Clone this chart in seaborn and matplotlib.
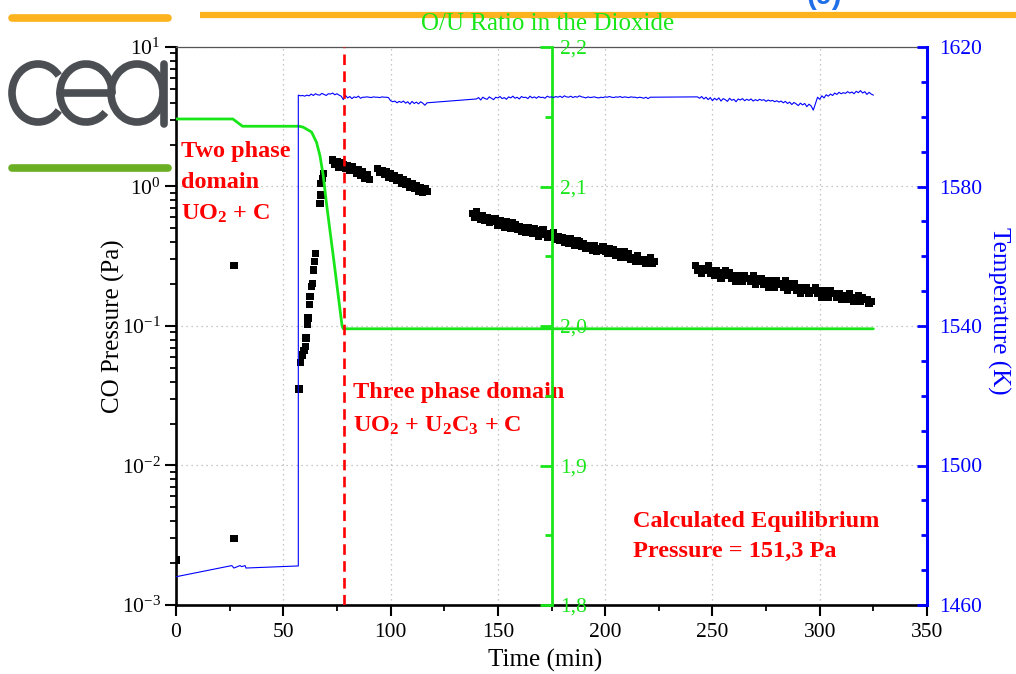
import numpy as np
import pandas as pd
import matplotlib
matplotlib.use("Agg")
import matplotlib.pyplot as plt
import matplotlib.ticker as mticker
from matplotlib.patches import Arc
from matplotlib.lines import Line2D
import seaborn as sns

# --------------------------------------------
# Data
# --------------------------------------------

# CO pressure (Pa), isolated points and the fast rise
p_early_time = [0.3, 27.0, 27.0, 57.3, 58.1, 59.0, 59.7, 60.3, 60.6, 61.2, 61.5, 62.1,
                62.5, 63.1, 63.5, 64.0, 64.5, 65.1, 67.1, 67.6, 67.4, 68.2, 68.6]
p_early = [0.0021, 0.27, 0.0030, 0.0353, 0.055, 0.062, 0.067, 0.071, 0.082, 0.102, 0.114, 0.142,
           0.162, 0.191, 0.202, 0.252, 0.289, 0.332, 0.758, 0.869, 1.05, 1.146, 1.244]

# CO pressure plateaus (one reading per minute)
p1a_start, p1a = 73, [1.55, 1.45, 1.50, 1.38, 1.49, 1.44, 1.35, 1.42, 1.31, 1.38,
                      1.33, 1.24, 1.32, 1.20, 1.28, 1.15, 1.22, 1.12]
p1b_start, p1b = 94, [1.35, 1.26, 1.30, 1.22, 1.27, 1.17, 1.23, 1.14, 1.19, 1.10,
                      1.15, 1.06, 1.12, 1.03, 1.08, 0.99, 1.05, 0.97, 1.02, 0.93,
                      0.99, 0.91, 0.96, 0.92]
p2_start, p2 = 138, [0.64, 0.60, 0.66, 0.61, 0.58, 0.62, 0.57, 0.60, 0.55, 0.59,
                     0.56, 0.59, 0.53, 0.57, 0.55, 0.51, 0.56, 0.54, 0.50, 0.55,
                     0.53, 0.49, 0.52, 0.48, 0.51, 0.47, 0.51, 0.49, 0.46, 0.50,
                     0.48, 0.44, 0.47, 0.49, 0.45, 0.43, 0.46, 0.44, 0.47, 0.42,
                     0.44, 0.41, 0.43, 0.40, 0.42, 0.39, 0.42, 0.40, 0.38, 0.41,
                     0.40, 0.37, 0.39, 0.36, 0.38, 0.37, 0.35, 0.38, 0.34, 0.36,
                     0.35, 0.37, 0.34, 0.33, 0.36, 0.33, 0.35, 0.32, 0.34, 0.31,
                     0.32, 0.34, 0.31, 0.33, 0.30, 0.31, 0.29, 0.32, 0.30, 0.29,
                     0.30, 0.28, 0.29, 0.31, 0.28, 0.29]
p3_start, p3 = 242, [0.27, 0.25, 0.26, 0.24, 0.26, 0.25, 0.27, 0.24, 0.25, 0.23,
                     0.25, 0.24, 0.22, 0.24, 0.25, 0.23, 0.24, 0.22, 0.23, 0.21,
                     0.23, 0.22, 0.21, 0.23, 0.22, 0.22, 0.21, 0.23, 0.20, 0.22,
                     0.21, 0.22, 0.20, 0.21, 0.19, 0.21, 0.20, 0.19, 0.21, 0.20,
                     0.20, 0.19, 0.21, 0.18, 0.20, 0.19, 0.20, 0.18, 0.19, 0.17,
                     0.19, 0.18, 0.19, 0.17, 0.18, 0.18, 0.19, 0.17, 0.18, 0.16,
                     0.18, 0.17, 0.16, 0.18, 0.17, 0.17, 0.16, 0.17, 0.155, 0.165,
                     0.165, 0.155, 0.17, 0.16, 0.15, 0.16, 0.165, 0.15, 0.16, 0.155,
                     0.155, 0.145, 0.15]

# O/U ratio in the dioxide
ou_time = [0, 26.5, 31, 57.5, 59.3, 61, 63.2, 65.5, 67.1, 68.6, 70.2, 73.3, 77.4, 78, 325]
ou_ratio = [2.1484, 2.1484, 2.1432, 2.1432, 2.1425, 2.141, 2.139, 2.1316, 2.122, 2.108,
            2.087, 2.050, 2.000, 1.998, 1.998]

# Temperature (K): heating part, then per-minute readings
t_low_time = [0, 26, 27, 29.8, 30.6, 32.2, 32.6, 57]
t_low = [1468.1, 1471.3, 1470.6, 1471.3, 1471.0, 1471.3, 1470.6, 1471.2]
ta_start, temp_a = 57, [1606.2, 1606.0, 1606.1, 1605.9, 1606.2, 1606.0, 1606.5, 1606.1, 1606.6, 1606.3,
                        1606.2, 1606.7, 1606.4, 1606.1, 1606.6, 1606.5, 1606.8, 1606.3, 1606.6, 1606.2,
                        1605.9, 1604.9, 1606.1, 1605.4, 1605.8, 1605.2, 1605.7, 1605.5, 1605.9, 1605.3,
                        1605.6, 1605.6, 1605.7, 1605.6, 1605.5, 1605.7, 1605.6, 1605.6, 1605.5, 1605.7,
                        1605.6, 1605.6, 1605.5, 1604.6, 1604.3, 1604.5, 1604.0, 1604.4, 1604.1, 1604.5,
                        1603.9, 1604.3, 1603.6, 1604.4, 1603.8, 1604.2, 1603.7, 1604.3, 1603.9, 1603.3,
                        1604.0]
tc_start, temp_c = 140, [1605.1, 1605.5, 1604.8, 1605.6, 1605.2, 1605.0, 1605.7, 1605.3, 1604.9, 1605.6,
                         1605.4, 1605.8, 1605.2, 1605.5, 1605.0, 1605.7, 1605.4, 1605.9, 1605.3, 1605.6,
                         1605.1, 1605.8, 1605.5, 1605.6, 1605.2, 1605.9, 1605.4, 1605.7, 1605.3, 1605.8,
                         1605.5, 1605.6, 1605.3, 1605.9, 1605.6, 1605.7, 1605.5, 1605.8, 1605.6, 1605.9,
                         1605.5, 1606.0, 1605.7, 1605.6, 1605.9, 1605.5, 1605.8, 1605.6, 1606.0, 1605.7,
                         1605.6, 1605.4, 1605.7, 1605.5, 1605.6, 1605.7, 1605.5, 1605.4, 1605.6, 1605.5,
                         1605.7, 1605.6, 1605.8, 1605.6, 1605.5, 1605.7, 1605.6, 1605.8, 1605.5, 1605.7,
                         1605.6, 1605.5, 1605.7, 1605.6, 1605.6, 1605.4, 1605.6, 1605.5, 1605.3, 1605.6,
                         1605.2, 1605.6]
te_start, temp_e = 243, [1605.7, 1605.3, 1605.8, 1605.1, 1605.6, 1604.9, 1605.5, 1604.6, 1605.3, 1604.8,
                         1605.4, 1604.5, 1605.2, 1604.9, 1604.4, 1605.3, 1604.7, 1605.0, 1604.3, 1605.1,
                         1604.8, 1605.2, 1604.6, 1605.0, 1604.7, 1605.1, 1604.5, 1604.9, 1604.6, 1605.0,
                         1604.7, 1604.9, 1604.4, 1604.8, 1604.5, 1604.7, 1604.3, 1604.6, 1604.2, 1604.5,
                         1604.0, 1604.4, 1603.8, 1604.2, 1603.5, 1604.1, 1603.7, 1603.2, 1603.9, 1603.4,
                         1603.8, 1602.9, 1603.6, 1603.1, 1601.9, 1603.8, 1605.6, 1605.0, 1606.0, 1605.4,
                         1606.3, 1605.9, 1606.5, 1606.1, 1606.8, 1606.4, 1607.0, 1606.6, 1606.9, 1606.7,
                         1607.2, 1606.8, 1607.1, 1606.6, 1607.3, 1606.9, 1607.5, 1606.8, 1607.2, 1606.4,
                         1607.0, 1606.5, 1606.2]

boundary_time = 78.3

x_ticks = [0, 50, 100, 150, 200, 250, 300, 350]
ou_ticks = [1.8, 1.9, 2.0, 2.1, 2.2]
temp_ticks = [1460, 1500, 1540, 1580, 1620]

GREEN = "#19e619"
BLUE = "#0000ff"
RED = "#ff0000"

# --------------------------------------------
# Build tables
# --------------------------------------------


def per_minute(start, values):
    return pd.DataFrame({"t": np.arange(start, start + len(values)), "v": values})


pressure = pd.concat([
    pd.DataFrame({"t": p_early_time, "v": p_early}),
    per_minute(p1a_start, p1a),
    per_minute(p1b_start, p1b),
    per_minute(p2_start, p2),
    per_minute(p3_start, p3),
], ignore_index=True)

temperature = pd.concat([
    pd.DataFrame({"t": t_low_time, "v": t_low}),
    per_minute(ta_start, temp_a),
    per_minute(tc_start, temp_c),
    per_minute(te_start, temp_e),
], ignore_index=True)

ou = pd.DataFrame({"t": ou_time, "v": ou_ratio})

# --------------------------------------------
# Style
# --------------------------------------------

sns.set_theme(style="ticks")
plt.rcParams["font.family"] = ["Liberation Serif", "DejaVu Serif"]
plt.rcParams["mathtext.fontset"] = "custom"
plt.rcParams["mathtext.rm"] = "Liberation Serif"
plt.rcParams["mathtext.it"] = "Liberation Serif:italic"
plt.rcParams["mathtext.bf"] = "Liberation Serif:bold"
plt.rcParams["axes.unicode_minus"] = False

fig = plt.figure(figsize=(10.16, 6.74), dpi=100)
fig.patch.set_facecolor("white")

# slide decoration (pixel coordinates)
deco = fig.add_axes([0, 0, 1, 1], zorder=-1)
deco.set_xlim(0, 1016)
deco.set_ylim(674, 0)
deco.axis("off")
deco.add_line(Line2D([12, 168], [18, 18], color="#fdb31e", lw=5.5, solid_capstyle="round"))
deco.add_line(Line2D([200, 1016], [15, 15], color="#fdb31e", lw=4.5, solid_capstyle="butt"))
deco.add_line(Line2D([12, 168], [168, 168], color="#6aaf23", lw=5.5, solid_capstyle="round"))
logo = "#4b4f54"
deco.add_patch(Arc((38, 93), 52, 58, theta1=40, theta2=320, color=logo, lw=5.5))
deco.add_patch(Arc((86, 93), 52, 58, theta1=45, theta2=360, color=logo, lw=5.5))
deco.add_line(Line2D([60, 112], [93, 93], color=logo, lw=5.5))
deco.add_patch(Arc((137, 93), 52, 58, theta1=0, theta2=360, color=logo, lw=5.5))
deco.add_line(Line2D([164, 164], [64, 124], color=logo, lw=5.5))
fig.text(824 / 1016, 1 - 4 / 674, "(9)", color="#1f70e8", fontsize=21, fontweight="bold",
         family="Liberation Sans", ha="center", va="baseline")

# --------------------------------------------
# Main axes: CO pressure
# --------------------------------------------

ax = fig.add_axes([176 / 1016, 69 / 674, 751 / 1016, 558 / 674])
sns.scatterplot(data=pressure, x="t", y="v", ax=ax, marker="s", s=27, color="black",
                edgecolor="none", linewidth=0, zorder=3)
ax.set_yscale("log")
ax.set_xlim(0, 350)
ax.set_ylim(1e-3, 10)
ax.set_xticks(x_ticks)
ax.xaxis.set_minor_locator(mticker.MultipleLocator(25))
ax.yaxis.set_minor_locator(mticker.LogLocator(base=10, subs=np.arange(2, 10)))
ax.yaxis.set_minor_formatter(mticker.NullFormatter())
ax.grid(True, which="major", linestyle=(0, (1, 3)), color="#b5b5b5", linewidth=0.9)
ax.xaxis.set_ticks_position("bottom")
ax.yaxis.set_ticks_position("left")
ax.tick_params(which="major", direction="out", length=8, width=1.5, colors="black", labelsize=15.5)
ax.tick_params(which="minor", direction="out", length=4.5, width=1.3, colors="black")
ax.tick_params(axis="y", pad=3)
ax.tick_params(axis="x", pad=5)
for side in ["left", "bottom"]:
    ax.spines[side].set_linewidth(1.9)
    ax.spines[side].set_color("black")
ax.spines["top"].set_linewidth(0.9)
ax.spines["top"].set_color("#555555")
ax.spines["right"].set_visible(False)

ax.set_xlabel("Time (min)", fontsize=18, color="black")
ax.xaxis.set_label_coords(0.4913, -0.078)
ax.set_ylabel("CO Pressure (Pa)", fontsize=18, color="black")
ax.yaxis.set_label_coords(-0.068, 0.5)

# --------------------------------------------
# O/U ratio axis in the middle
# --------------------------------------------

ax_ou = ax.twinx()
sns.lineplot(data=ou, x="t", y="v", ax=ax_ou, color=GREEN, linewidth=2,
             estimator=None, sort=False)
ax_ou.set_ylim(1.8, 2.2)
ax_ou.set_yticks(ou_ticks)
ax_ou.yaxis.set_minor_locator(mticker.MultipleLocator(0.05))
ax_ou.yaxis.set_major_formatter(mticker.FuncFormatter(lambda v, _: f"{v:.1f}".replace(".", ",")))
for side in ["left", "top", "bottom"]:
    ax_ou.spines[side].set_visible(False)
ax_ou.spines["right"].set_position(("axes", 0.5))
ax_ou.spines["right"].set_color(GREEN)
ax_ou.spines["right"].set_linewidth(2)
ax_ou.tick_params(axis="y", which="major", direction="in", length=9, width=2,
                  colors=GREEN, labelsize=15.5, pad=6)
ax_ou.tick_params(axis="y", which="minor", direction="in", length=5, width=2, colors=GREEN)
ax_ou.set_ylabel("")
ax_ou.set_xlabel("")

# --------------------------------------------
# Temperature axis on the right
# --------------------------------------------

ax_t = ax.twinx()
sns.lineplot(data=temperature, x="t", y="v", ax=ax_t, color=BLUE, linewidth=0.8,
             estimator=None, sort=False)
ax_t.set_ylim(1460, 1620)
ax_t.set_yticks(temp_ticks)
ax_t.yaxis.set_minor_locator(mticker.MultipleLocator(10))
for side in ["left", "top", "bottom"]:
    ax_t.spines[side].set_visible(False)
ax_t.spines["right"].set_color(BLUE)
ax_t.spines["right"].set_linewidth(2.2)
ax_t.tick_params(axis="y", which="major", direction="in", length=7.5, width=2,
                 colors=BLUE, labelsize=15.5, pad=9)
ax_t.tick_params(axis="y", which="minor", direction="in", length=4, width=2, colors=BLUE)
ax_t.set_xlabel("")
ax_t.set_ylabel("Temperature (K)", fontsize=18, color=BLUE, rotation=270, va="bottom")
ax_t.yaxis.set_label_coords(1.080, 0.527)
ax_t.set_xlim(0, 350)

ax_t.axvline(boundary_time, color=RED, linewidth=1.9, dashes=(4, 2.4), zorder=5)

# --------------------------------------------
# Annotations
# --------------------------------------------

red_kw = dict(transform=ax.transAxes, color=RED, fontsize=17.5, fontweight="bold",
              ha="left", va="baseline", zorder=4)
ax.text(0.0066, 0.8034, "Two phase", **red_kw)
ax.text(0.0066, 0.7473, "domain", **red_kw)
ax.text(0.0066, 0.6900, r"UO$_\mathbf{2}$ + C", **red_kw)
ax.text(0.2353, 0.3710, "Three phase domain", **red_kw)
ax.text(0.2353, 0.3100, r"UO$_\mathbf{2}$ + U$_\mathbf{2}$C$_\mathbf{3}$ + C", **red_kw)
ax.text(0.6089, 0.1403, "Calculated Equilibrium", **red_kw)
ax.text(0.6089, 0.0866, "Pressure = 151,3 Pa", **red_kw)

fig.text(548 / 1016, 1 - 30 / 674, "O/U Ratio in the Dioxide", color=GREEN, fontsize=18,
         ha="center", va="baseline", zorder=5)

fig.savefig("out.png", dpi=100)
print("saved out.png")
